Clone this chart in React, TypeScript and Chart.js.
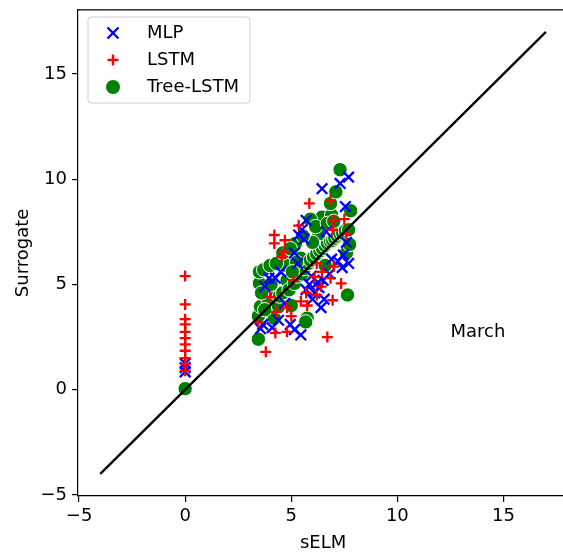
import React, { useEffect, useRef } from "react";
import { Chart, registerables } from "chart.js";

Chart.register(...registerables);

const xTicks = [-5, 0, 5, 10, 15];
const yTicks = [-5, 0, 5, 10, 15];

const lineX = [-4, 17];
const lineY = [-4, 17];

const mlpX = [0, 0, 0, 3.55, 3.65, 4.1, 4.95, 5.45, 5.15, 6.4, 6.0, 5.7, 6.3, 6.5, 6.8, 7.4, 7.7, 7.2, 6.1, 5.85, 6.55, 3.95, 4.25, 4.5, 3.75, 5.15, 5.35, 5.6, 5.7, 5.5, 6.45, 7.3, 7.7, 7.55, 6.65, 7.6, 4.7, 7.45, 5.95, 6.25, 6.9, 5.3, 4.4];
const mlpY = [1.25, 1.05, 0.85, 2.9, 3.1, 2.95, 3.1, 2.6, 2.85, 3.9, 4.3, 4.75, 4.85, 5.2, 5.5, 5.8, 6.0, 6.1, 4.6, 5.0, 4.3, 5.3, 5.3, 5.6, 4.9, 6.5, 7.35, 7.15, 8.05, 7.6, 9.55, 9.8, 10.1, 8.7, 7.5, 7.0, 4.1, 6.4, 5.4, 5.1, 6.2, 6.0, 3.3];

const lstmX = [0, 0, 0, 0, 0, 0, 0, 0, 0, 0, 0, 3.8, 4.25, 4.8, 6.7, 4.8, 5.75, 6.95, 7.35, 6.85, 6.45, 7.0, 5.45, 6.2, 4.2, 4.2, 4.7, 4.65, 5.35, 5.85, 6.85, 7.0, 6.95, 7.5, 4.0, 4.3, 7.6, 6.2, 5.0, 3.45, 5.1, 5.7, 6.4, 6.1, 4.55];
const lstmY = [5.4, 4.05, 3.35, 3.1, 2.75, 2.45, 2.15, 1.85, 1.5, 1.2, 0.9, 1.8, 2.7, 2.75, 2.5, 3.9, 4.0, 4.25, 5.05, 5.3, 5.6, 5.85, 4.2, 4.5, 7.35, 6.95, 7.1, 6.55, 7.8, 8.85, 9.0, 8.05, 7.6, 8.1, 4.4, 3.7, 7.4, 6.0, 3.5, 3.2, 5.2, 4.6, 4.9, 5.35, 6.3];

const treeX = [0, 3.45, 3.45, 3.55, 3.5, 3.5, 3.7, 4.0, 3.9, 4.1, 4.2, 4.4, 4.45, 4.6, 4.75, 4.8, 4.9, 5.0, 5.15, 5.2, 5.3, 5.45, 5.5, 5.6, 5.75, 5.8, 5.9, 6.05, 6.2, 6.35, 6.47, 6.6, 6.71, 6.85, 6.95, 7.05, 7.18, 7.3, 7.42, 7.55, 7.7, 6.3, 6.0, 6.45, 6.9, 6.85, 7.8, 7.1, 7.3, 7.65, 7.6, 7.75, 5.68, 4.3, 5.9, 6.6, 3.6, 4.6, 4.95, 5.25, 5.55, 6.15, 6.7, 7.0, 4.05, 3.75, 5.05];
const treeY = [0.05, 2.4, 3.5, 3.95, 5.05, 5.6, 5.7, 5.9, 4.3, 4.65, 3.4, 3.95, 4.45, 4.6, 5.9, 5.2, 4.75, 4.0, 5.05, 6.95, 5.4, 6.25, 5.5, 5.75, 3.4, 6.0, 6.15, 6.3, 6.45, 6.6, 6.72, 6.85, 6.96, 7.05, 7.1, 7.2, 7.3, 7.4, 7.45, 7.55, 7.6, 7.4, 7.0, 8.2, 8.3, 8.85, 8.5, 9.4, 10.45, 4.5, 6.5, 6.9, 3.22, 6.0, 8.1, 5.9, 4.6, 6.5, 6.7, 6.05, 7.3, 7.75, 7.9, 8.0, 5.0, 3.8, 5.6];

const legendLabels = ["MLP", "LSTM", "Tree-LSTM"];
const annotationText = "March";
const annotationX = 12.5;
const annotationY = 2.5;
const xTitle = "sELM";
const yTitle = "Surrogate";

const FONT = "18px 'DejaVu Sans'";
const BLUE = "#0000ff";
const RED = "#ff0000";
const GREEN = "#008000";

const zip = (xs: number[], ys: number[]) => xs.map((x, i) => ({ x, y: ys[i] }));
const fmt = (v: number) => (v < 0 ? "\u2212" + Math.abs(v) : String(v));

const decorPlugin = {
  id: "decor",
  afterDraw(chart: any) {
    const ctx = chart.ctx;
    const a = chart.chartArea;
    const xs = chart.scales.x;
    const ys = chart.scales.y;
    ctx.save();
    ctx.strokeStyle = "black";
    ctx.lineWidth = 1.2;
    ctx.beginPath();
    ctx.moveTo(a.left, a.top);
    ctx.lineTo(chart.width, a.top);
    ctx.stroke();

    ctx.fillStyle = "#000";
    ctx.font = FONT;
    ctx.textAlign = "center";
    ctx.textBaseline = "middle";
    ctx.fillText(xTitle, (xs.getPixelForValue(-5.05) + xs.getPixelForValue(18.05)) / 2, 543);
    ctx.save();
    ctx.translate(23, (a.top + a.bottom) / 2);
    ctx.rotate(-Math.PI / 2);
    ctx.fillText(yTitle, 0, 0);
    ctx.restore();

    ctx.textAlign = "left";
    ctx.textBaseline = "alphabetic";
    ctx.fillText(annotationText, xs.getPixelForValue(annotationX), ys.getPixelForValue(annotationY));

    const bx = 88, by = 17, bw = 162, bh = 86;
    ctx.beginPath();
    if ((ctx as any).roundRect) (ctx as any).roundRect(bx, by, bw, bh, 3);
    else ctx.rect(bx, by, bw, bh);
    ctx.fillStyle = "rgba(255,255,255,0.8)";
    ctx.fill();
    ctx.strokeStyle = "#cccccc";
    ctx.lineWidth = 1;
    ctx.stroke();

    const mx = 113;
    const rows = [33, 60, 87];
    ctx.strokeStyle = BLUE;
    ctx.lineWidth = 2.4;
    ctx.beginPath();
    ctx.moveTo(mx - 5.5, rows[0] - 5.5);
    ctx.lineTo(mx + 5.5, rows[0] + 5.5);
    ctx.moveTo(mx - 5.5, rows[0] + 5.5);
    ctx.lineTo(mx + 5.5, rows[0] - 5.5);
    ctx.stroke();
    ctx.strokeStyle = RED;
    ctx.beginPath();
    ctx.moveTo(mx - 5.5, rows[1]);
    ctx.lineTo(mx + 5.5, rows[1]);
    ctx.moveTo(mx, rows[1] - 5.5);
    ctx.lineTo(mx, rows[1] + 5.5);
    ctx.stroke();
    ctx.fillStyle = GREEN;
    ctx.strokeStyle = "white";
    ctx.lineWidth = 1;
    ctx.beginPath();
    ctx.arc(mx, rows[2], 7.5, 0, Math.PI * 2);
    ctx.fill();
    ctx.stroke();

    ctx.fillStyle = "#000";
    ctx.font = FONT;
    ctx.textAlign = "left";
    ctx.textBaseline = "middle";
    legendLabels.forEach((t, i) => ctx.fillText(t, 147, rows[i]));
    ctx.restore();
  },
};

export default function App() {
  const ref = useRef<HTMLCanvasElement>(null);
  useEffect(() => {
    if (!ref.current) return;
    const tickFont = { family: "'DejaVu Sans'", size: 18 };
    const chart = new Chart(ref.current, {
      type: "scatter",
      data: {
        datasets: [
          {
            label: "line",
            data: zip(lineX, lineY),
            showLine: true,
            borderColor: "black",
            borderWidth: 2.3,
            pointRadius: 0,
            order: 0,
          } as any,
          {
            label: legendLabels[1],
            data: zip(lstmX, lstmY),
            pointStyle: "cross",
            radius: 5.5,
            borderColor: RED,
            backgroundColor: RED,
            borderWidth: 2.3,
            order: 1,
          },
          {
            label: legendLabels[0],
            data: zip(mlpX, mlpY),
            pointStyle: "crossRot",
            radius: 7.5,
            borderColor: BLUE,
            backgroundColor: BLUE,
            borderWidth: 2.3,
            order: 2,
          },
          {
            label: legendLabels[2],
            data: zip(treeX, treeY),
            pointStyle: "circle",
            radius: 7.2,
            borderColor: "white",
            backgroundColor: GREEN,
            borderWidth: 1,
            order: 3,
          },
        ],
      },
      options: {
        animation: false,
        responsive: false,
        devicePixelRatio: 1,
        layout: { padding: { top: 8, right: 1, left: 0, bottom: 0 } },
        plugins: { legend: { display: false }, tooltip: { enabled: false } },
        scales: {
          x: {
            type: "linear",
            min: -5.05,
            max: 18.05,
            afterFit: (s: any) => {
              s.height = 57;
              s.paddingLeft = 0;
              s.paddingRight = 0;
            },
            afterBuildTicks: (s: any) => {
              s.ticks = xTicks.map((v) => ({ value: v }));
            },
            ticks: { color: "#000", font: tickFont, padding: 4, callback: (v: any) => fmt(Number(v)), maxRotation: 0, autoSkip: false },
            grid: { display: true, drawOnChartArea: false, drawTicks: true, tickLength: 6, color: "#000", lineWidth: 1.2 },
            border: { display: true, color: "#000", width: 1.2 },
          },
          y: {
            type: "linear",
            min: -5.05,
            max: 18.05,
            afterFit: (s: any) => {
              s.width = 78;
              s.paddingTop = 0;
              s.paddingBottom = 0;
            },
            afterBuildTicks: (s: any) => {
              s.ticks = yTicks.map((v) => ({ value: v }));
            },
            ticks: { color: "#000", font: tickFont, padding: 5, callback: (v: any) => fmt(Number(v)), autoSkip: false },
            grid: { display: true, drawOnChartArea: false, drawTicks: true, tickLength: 6, color: "#000", lineWidth: 1.2 },
            border: { display: true, color: "#000", width: 1.2 },
          },
        },
      },
      plugins: [decorPlugin],
    } as any);
    return () => chart.destroy();
  }, []);
  return (
    <div style={{ position: "fixed", left: 0, top: 0, width: 563, height: 553, overflow: "hidden", background: "white" }}>
      <canvas ref={ref} width={578} height={553} style={{ display: "block", width: 578, height: 553 }} />
    </div>
  );
}
